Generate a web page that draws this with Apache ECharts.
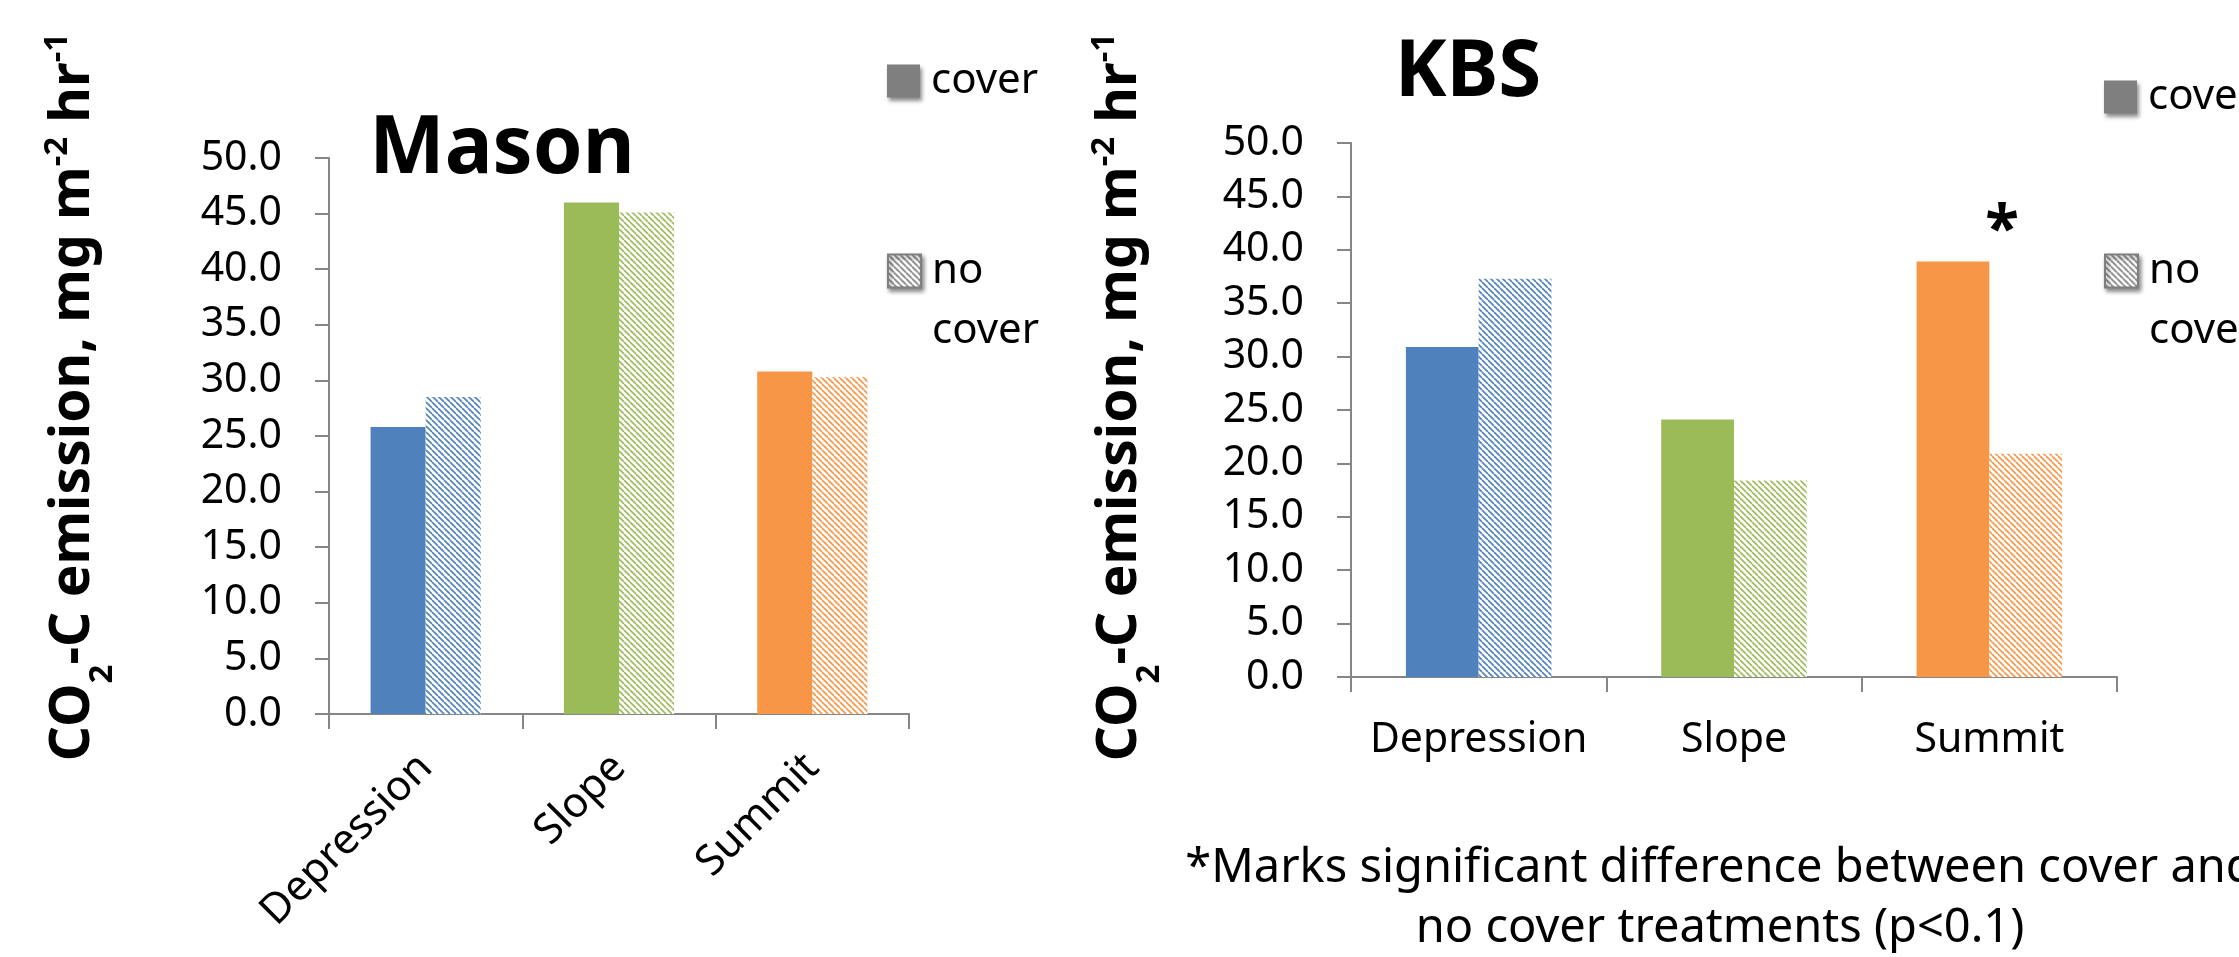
<!DOCTYPE html>
<html><head><meta charset="utf-8">
<script src="https://cdn.jsdelivr.net/npm/echarts@6/dist/echarts.min.js"></script>
<style>html,body{margin:0;padding:0;background:#fff}#c{width:2239px;height:957px}</style>
</head><body><div id="c"></div>
<script>
// ---- data ----
const categories = ['Depression', 'Slope', 'Summit'];
const masonCover = [25.8, 46.0, 30.8];
const masonNoCover = [28.5, 45.1, 30.3];
const kbsCover = [30.9, 24.1, 38.9];
const kbsNoCover = [37.3, 18.4, 20.9];
const kbsSignificance = ['', '', '*'];
const categoryColors = ['#4F81BD', '#9BBB59', '#F79646'];
const seriesNames = ['cover', 'no cover'];
const yMin = 0, yMax = 50, yInterval = 5;
const panelTitles = ['Mason', 'KBS'];
const yTitle = '{a|CO}{s|2}{a|-C emission, mg m}{p|-2}{a| hr}{p|-1}';
const footnote = '*Marks significant difference between cover and\nno cover treatments (p<0.1)';

const FONT = '"Noto Sans", "Liberation Sans", sans-serif';
const AXIS_COLOR = '#868686';

function hatch(color) {
  const s = 6;
  const c = document.createElement('canvas');
  c.width = s; c.height = s;
  const ctx = c.getContext('2d');
  ctx.fillStyle = '#fff';
  ctx.fillRect(0, 0, s, s);
  ctx.strokeStyle = color;
  ctx.lineWidth = 1.6;
  ctx.beginPath();
  for (let k = -2; k <= 2; k++) {
    ctx.moveTo(k * s, 0);
    ctx.lineTo(k * s + s, s);
  }
  ctx.stroke();
  return { image: c, repeat: 'repeat' };
}

function makeSeries(name, values, hatched, axisIdx, marks) {
  return {
    type: 'bar', name: name,
    xAxisIndex: axisIdx, yAxisIndex: axisIdx,
    barGap: '0%', barCategoryGap: '43%',
    itemStyle: { color: hatched ? hatch('#7f7f7f') : '#7f7f7f' },
    data: values.map((v, i) => {
      const d = {
        value: v,
        itemStyle: { color: hatched ? hatch(categoryColors[i]) : categoryColors[i], borderWidth: 0 }
      };
      if (marks && marks[i]) {
        d.label = {
          show: true, position: 'top', distance: 0, offset: [49, 2],
          formatter: marks[i], fontSize: 62, fontWeight: 'bold', color: '#000', fontFamily: FONT
        };
      }
      return d;
    })
  };
}

function yAxis(gi) {
  return {
    type: 'value', gridIndex: gi, min: yMin, max: yMax, interval: yInterval,
    axisLine: { show: true, lineStyle: { color: AXIS_COLOR, width: 2 } },
    axisTick: { show: true, length: 14, lineStyle: { color: AXIS_COLOR, width: 2 } },
    splitLine: { show: false },
    axisLabel: { formatter: v => v.toFixed(1), fontSize: 41, color: '#000', fontFamily: FONT, margin: 47 }
  };
}

function xAxis(gi, rotated) {
  const lab = { interval: 0, fontSize: 42, color: '#000', fontFamily: FONT };
  if (rotated) { lab.rotate = 45; lab.margin = 47; lab.padding = [40, 0, 0, 0]; }
  else { lab.margin = 43; lab.fontSize = 41; }
  return {
    type: 'category', gridIndex: gi, data: categories,
    axisLine: { show: true, lineStyle: { color: AXIS_COLOR, width: 2 } },
    axisTick: { show: true, length: 15, lineStyle: { color: AXIS_COLOR, width: 2 } },
    axisLabel: lab
  };
}

const legendText = { fontSize: 42, lineHeight: 60, fontFamily: FONT, color: '#000', padding: [0, 0, 0, 6] };
const shadow = { shadowBlur: 4, shadowOffsetX: 2, shadowOffsetY: 3, shadowColor: 'rgba(0,0,0,0.45)' };
function legends(left, topCover, topNo) {
  return [
    {
      left: left, top: topCover, padding: 0, itemWidth: 33, itemHeight: 33, selectedMode: false,
      data: [{ name: seriesNames[0], icon: 'rect', itemStyle: Object.assign({ color: '#7f7f7f' }, shadow) }],
      textStyle: legendText
    },
    {
      left: left, top: topNo, padding: 0, itemWidth: 33, itemHeight: 33, selectedMode: false,
      data: [{ name: seriesNames[1], icon: 'rect', itemStyle: Object.assign({ color: hatch('#7f7f7f'), borderColor: '#7f7f7f', borderWidth: 2 }, shadow) }],
      formatter: () => ' \nno\ncover',
      textStyle: legendText
    }
  ];
}

const rich = {
  a: { fontSize: 55, fontWeight: 'bold', fontFamily: FONT, lineHeight: 100, color: '#000' },
  s: { fontSize: 33, fontWeight: 'bold', fontFamily: FONT, height: 40, lineHeight: 40, verticalAlign: 'bottom', color: '#000' },
  p: { fontSize: 33, fontWeight: 'bold', fontFamily: FONT, height: 70, lineHeight: 70, verticalAlign: 'top', color: '#000' }
};

const option = {
  backgroundColor: '#fff',
  animation: false,
  grid: [
    { left: 329, top: 158, width: 580, height: 556 },
    { left: 1351, top: 143, width: 766, height: 534 }
  ],
  xAxis: [xAxis(0, true), xAxis(1, false)],
  yAxis: [yAxis(0), yAxis(1)],
  legend: legends(887, 51, 181).concat(legends(2104, 67, 181)),
  series: [
    makeSeries(seriesNames[0], masonCover, false, 0),
    makeSeries(seriesNames[1], masonNoCover, true, 0),
    makeSeries(seriesNames[0], kbsCover, false, 1, kbsSignificance),
    makeSeries(seriesNames[1], kbsNoCover, true, 1)
  ],
  graphic: [
    { type: 'text', x: 73, y: 397, rotation: Math.PI / 2,
      style: { text: yTitle, rich: rich, align: 'center', verticalAlign: 'middle' } },
    { type: 'text', x: 1120, y: 397, rotation: Math.PI / 2,
      style: { text: yTitle, rich: rich, align: 'center', verticalAlign: 'middle' } },
    { type: 'text', x: 502, y: 150,
      style: { text: panelTitles[0], fontSize: 80, fontWeight: 'bold', fontFamily: FONT, fill: '#000', align: 'center', verticalAlign: 'middle' } },
    { type: 'text', x: 1468, y: 73.5,
      style: { text: panelTitles[1], fontSize: 78, fontWeight: 'bold', fontFamily: FONT, fill: '#000', align: 'center', verticalAlign: 'middle' } },
    { type: 'text', x: 1720, y: 839,
      style: { text: footnote, fontSize: 47, lineHeight: 60, fontFamily: FONT, fill: '#000', align: 'center', verticalAlign: 'top' } }
  ]
};

const chart = echarts.init(document.getElementById('c'), null, { renderer: 'canvas' });
chart.setOption(option);
</script>
</body></html>
